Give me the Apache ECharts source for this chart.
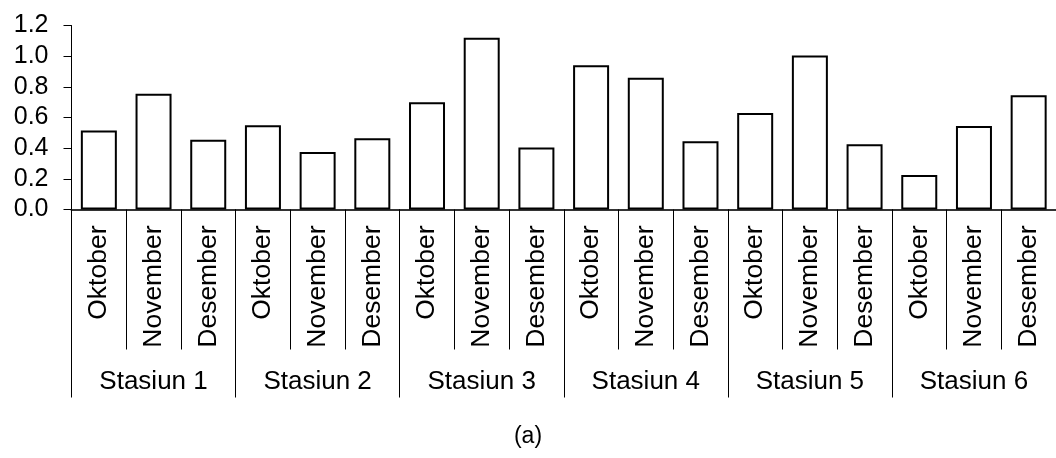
<!DOCTYPE html>
<html><head><meta charset="utf-8">
<script src="https://cdn.jsdelivr.net/npm/echarts@6/dist/echarts.min.js"></script>
<style>html,body{margin:0;padding:0;background:#fff}#c{width:1056px;height:458px}</style>
</head><body><div id="c"></div>
<script>
const months = ['Oktober', 'November', 'Desember'];
const stations = ['Stasiun 1', 'Stasiun 2', 'Stasiun 3', 'Stasiun 4', 'Stasiun 5', 'Stasiun 6'];
const values = [
  0.515, 0.755, 0.455,
  0.55, 0.375, 0.465,
  0.70, 1.12, 0.405,
  0.94, 0.86, 0.445,
  0.63, 1.005, 0.425,
  0.225, 0.545, 0.745
];
const yMin = 0, yMax = 1.2, yStep = 0.2;
const caption = '(a)';

const categories = [];
stations.forEach(() => months.forEach(m => categories.push(m)));
const font = 'Liberation Sans, Arial, sans-serif';

const chart = echarts.init(document.getElementById('c'), null, {renderer: 'canvas'});
chart.setOption({
  animation: false,
  backgroundColor: '#fff',
  grid: {left: 71.5, right: -8, top: 25.5, bottom: 248.5, containLabel: false},
  xAxis: [
    {
      type: 'category', data: categories, position: 'bottom',
      axisLine: {show: true, lineStyle: {color: '#333', width: 2}},
      axisTick: {show: true, interval: 0, length: 140, lineStyle: {color: '#000', width: 1}},
      axisLabel: {interval: 0, rotate: 90, margin: 16, fontSize: 26.5, color: '#000', fontFamily: font},
      splitLine: {show: false}
    },
    {
      type: 'category', data: stations, position: 'bottom',
      axisLine: {show: false},
      axisTick: {show: true, interval: 0, length: 188, lineStyle: {color: '#000', width: 1}},
      axisLabel: {interval: 0, margin: 159, fontSize: 26, color: '#000', fontFamily: font},
      splitLine: {show: false}
    }
  ],
  yAxis: {
    type: 'value', min: yMin, max: yMax, interval: yStep,
    axisLine: {show: true, lineStyle: {color: '#000', width: 1}},
    axisTick: {show: true, length: 8, lineStyle: {color: '#000', width: 1}},
    axisLabel: {formatter: v => v.toFixed(1), fontSize: 25, color: '#000', margin: 23, fontFamily: font},
    splitLine: {show: false}
  },
  series: [{
    type: 'bar', xAxisIndex: 0, data: values, barWidth: 36,
    itemStyle: {color: '#fff', borderColor: '#000', borderWidth: 2}
  }],
  graphic: [{
    type: 'text', x: 528, y: 437,
    style: {text: caption, fontSize: 23, fill: '#000', fontFamily: font, textAlign: 'center', textVerticalAlign: 'middle'}
  }]
});
</script></body></html>
